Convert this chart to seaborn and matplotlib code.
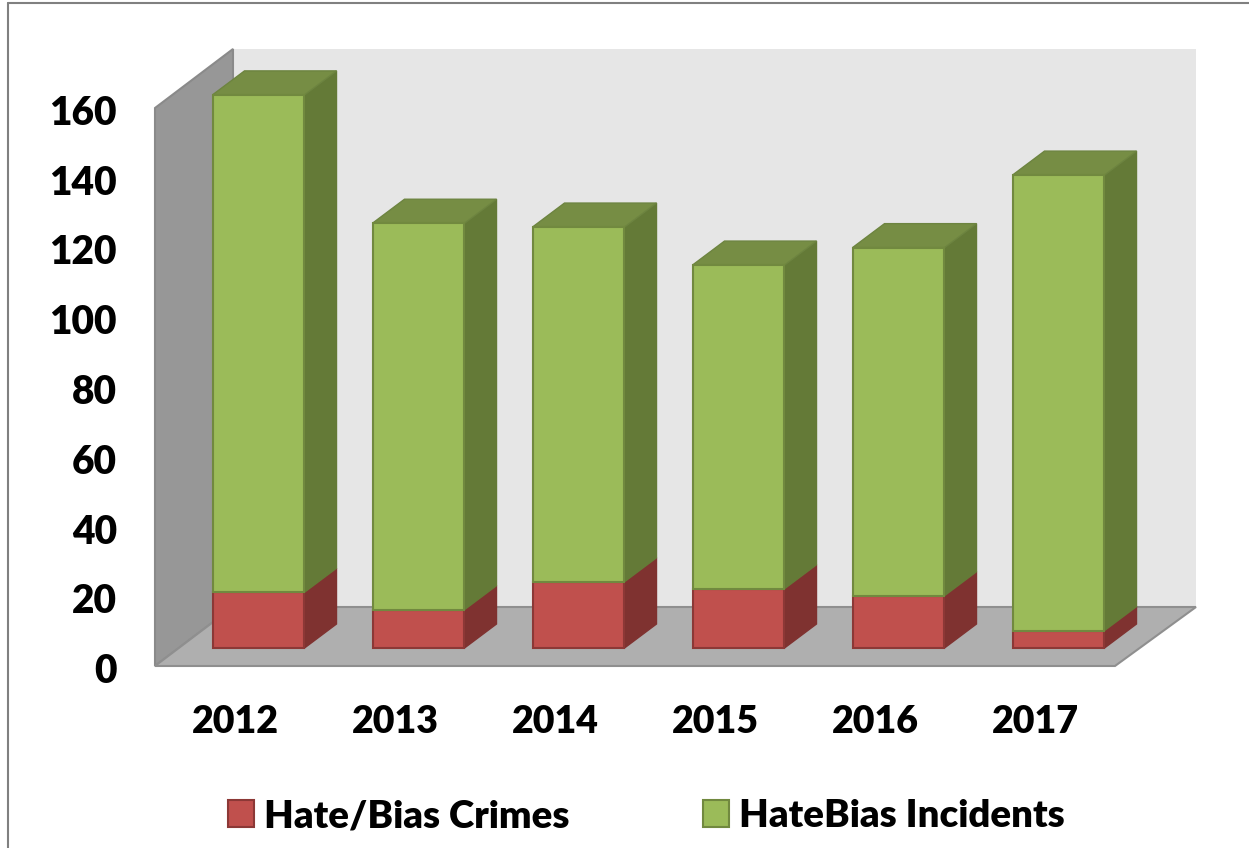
import numpy as np
import pandas as pd
import matplotlib
matplotlib.use('Agg')
import matplotlib.pyplot as plt
from matplotlib.lines import Line2D
from matplotlib.transforms import ScaledTranslation
import seaborn as sns

# values
years = [2012, 2013, 2014, 2015, 2016, 2017]
crimes = [16, 11, 19, 17, 15, 5]
incidents = [142.6, 110.8, 101.7, 92.8, 99.8, 130.6]
y_ticks = [0, 20, 40, 60, 80, 100, 120, 140, 160]

W, H = 1249, 848
# pixel box of the front plane of the chart
left, right, top, bottom = 155, 1115, 108, 666

sns.set_theme(style='white')
plt.rcParams['font.family'] = ['Lato', 'DejaVu Sans']
plt.rcParams['font.weight'] = 'heavy'

fig = plt.figure(figsize=(W / 100, H / 100), dpi=100)
ax = fig.add_axes([left / W, 1 - bottom / H, (right - left) / W, (bottom - top) / H])
ax.set_xlim(2011.5, 2017.5)
ax.set_ylim(0, 160)

# pixels to data units
px_x = 6 / (right - left)
px_y = 160 / (bottom - top)

# walls and floor of the 3d box
wall_l, wall_r, wall_dy = 78 * px_x, 81 * px_x, 59 * px_y
x0, x1 = 2011.5, 2017.5
ax.fill([x0 + wall_l, x1 + wall_r, x1 + wall_r, x0 + wall_l], [wall_dy, wall_dy, 160 + wall_dy, 160 + wall_dy],
        color='#e6e6e6', lw=0, clip_on=False, zorder=0)
ax.fill([x0, x0 + wall_l, x0 + wall_l, x0], [0, wall_dy, 160 + wall_dy, 160],
        facecolor='#979797', edgecolor='#8a8a8a', lw=1.5, clip_on=False, zorder=1)
ax.fill([x0, x1, x1 + wall_r, x0 + wall_l], [0, 0, wall_dy, wall_dy],
        facecolor='#afafaf', edgecolor='#8f8f8f', lw=1.5, clip_on=False, zorder=1)

df = pd.DataFrame({'year': years, 'crimes': crimes, 'incidents': incidents})
df['pos'] = df['year'] + 23.5 * px_x
floor = 18 * px_y

sns.barplot(data=df, x='pos', y='crimes', native_scale=True, width=92 * px_x, color='#c0504d', saturation=1,
            bottom=floor, edgecolor='#8c3836', linewidth=1.5, label='Hate/Bias Crimes', ax=ax, zorder=4,
            clip_on=False)
sns.barplot(data=df, x='pos', y='incidents', native_scale=True, width=92 * px_x, color='#9bbb59', saturation=1,
            bottom=floor + df['crimes'].to_numpy(), edgecolor='#71893f', linewidth=1.5, label='HateBias Incidents',
            ax=ax, zorder=4, clip_on=False)

# side and top faces, taken from the bars seaborn drew
dx, dy = 32 * px_x, 24 * px_y
for k, container in enumerate(ax.containers):
    for p in container:
        xa, ya, w, h = p.get_x(), p.get_y(), p.get_width(), p.get_height()
        xb, yb = xa + w, ya + h
        side = '#7f3230' if k == 0 else '#647a37'
        ax.fill([xb, xb + dx, xb + dx, xb], [ya, ya + dy, yb + dy, yb], facecolor=side,
                edgecolor=side, lw=1, clip_on=False, zorder=3)
        if k == 1:
            ax.fill([xa, xb, xb + dx, xa + dx], [yb, yb, yb + dy, yb + dy], facecolor='#768d44',
                    edgecolor='#6d8440', lw=1, clip_on=False, zorder=3)

ax.set_xlim(x0, x1)
ax.set_ylim(0, 160)
ax.set_xticks(years)
ax.set_xticklabels(years)
ax.set_yticks(y_ticks)
ax.set_xlabel('')
ax.set_ylabel('')
ax.tick_params(axis='y', length=0, pad=27.5, labelsize=28, labelcolor='black')
ax.tick_params(axis='x', length=0, pad=28, labelsize=27, labelcolor='black')
sns.despine(ax=ax, left=True, bottom=True)
ax.patch.set_alpha(0)

# the labels sit a little lower than the ticks in the reference
shift = ScaledTranslation(0, -2 / 100, fig.dpi_scale_trans)
for lab in ax.get_yticklabels():
    lab.set_transform(lab.get_transform() + shift)

ax.legend(loc='center', bbox_to_anchor=(646 / W, 1 - 816 / H), bbox_transform=fig.transFigure, ncol=2,
          frameon=False, fontsize=27.6, handlelength=0.68, handleheight=0.68, handletextpad=0.26,
          columnspacing=3.48, labelcolor='black')

# frame of the page around the chart
fig.add_artist(Line2D([8 / W, 8 / W], [0, 1 - 2.5 / H], color='#808080', lw=1.5))
fig.add_artist(Line2D([8 / W, 1], [1 - 2.5 / H, 1 - 2.5 / H], color='#808080', lw=1.5))

fig.savefig('out.png', dpi=100)
